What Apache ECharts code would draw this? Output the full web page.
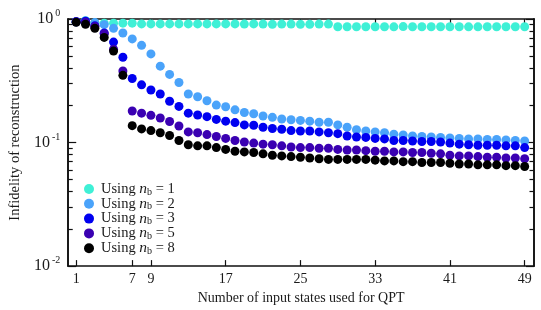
<!DOCTYPE html>
<html><head><meta charset="utf-8">
<script src="https://cdn.jsdelivr.net/npm/echarts@6/dist/echarts.min.js"></script>
<style>html,body{margin:0;padding:0;background:#fff}#c{width:541px;height:310px}</style>
</head><body><div id="c"></div>
<script>
var inputStates = [1,2,3,4,5,6,7,8,9,10,11,12,13,14,15,16,17,18,19,20,21,22,23,24,25,26,27,28,29,30,31,32,33,34,35,36,37,38,39,40,41,42,43,44,45,46,47,48,49];
var xTickValues = [1,7,9,17,25,33,41,49];
var yMajorTicks = [0.01,0.1,1];
var yMinorTicks = [0.02,0.03,0.04,0.05,0.06,0.07,0.08,0.09,0.2,0.3,0.4,0.5,0.6,0.7,0.8,0.9];
var seriesNames = ['Using n_b = 1','Using n_b = 2','Using n_b = 3','Using n_b = 5','Using n_b = 8'];
var nb1 = [0.95,0.97,0.93,0.925,0.925,0.925,0.925,0.912,0.912,0.912,0.912,0.912,0.912,0.912,0.912,0.912,0.912,0.912,0.91,0.912,0.91,0.905,0.91,0.91,0.905,0.905,0.91,0.91,0.866,0.866,0.866,0.866,0.866,0.866,0.864,0.868,0.866,0.866,0.866,0.866,0.866,0.866,0.864,0.864,0.866,0.866,0.866,0.866,0.866];
var nb2 = [0.95,0.965,0.935,0.9,0.84,0.77,0.69,0.612,0.522,0.415,0.356,0.306,0.247,0.235,0.218,0.201,0.195,0.184,0.175,0.171,0.164,0.16,0.155,0.153,0.151,0.149,0.146,0.146,0.139,0.133,0.127,0.124,0.122,0.12,0.117,0.115,0.113,0.112,0.111,0.11,0.109,0.108,0.107,0.107,0.106,0.106,0.105,0.104,0.103];
var nb3 = [0.95,0.96,0.88,0.77,0.65,0.49,0.33,0.293,0.266,0.247,0.216,0.196,0.173,0.167,0.162,0.154,0.149,0.145,0.139,0.138,0.133,0.13,0.128,0.125,0.124,0.124,0.122,0.12,0.118,0.113,0.111,0.11,0.108,0.107,0.104,0.104,0.103,0.102,0.102,0.101,0.099,0.097,0.096,0.095,0.095,0.095,0.094,0.094,0.091];
var nb5 = [0.95,0.94,0.87,0.76,0.57,0.38,0.18,0.173,0.166,0.158,0.148,0.136,0.122,0.12,0.116,0.112,0.108,0.104,0.101,0.099,0.097,0.096,0.094,0.092,0.091,0.091,0.09,0.09,0.088,0.087,0.087,0.086,0.085,0.085,0.084,0.084,0.083,0.083,0.082,0.081,0.079,0.078,0.078,0.077,0.076,0.076,0.075,0.075,0.074];
var nb8 = [0.94,0.905,0.84,0.71,0.55,0.35,0.137,0.129,0.125,0.12,0.114,0.104,0.096,0.094,0.094,0.091,0.088,0.085,0.084,0.083,0.081,0.079,0.078,0.077,0.076,0.075,0.074,0.073,0.073,0.073,0.073,0.073,0.072,0.071,0.071,0.07,0.07,0.069,0.069,0.069,0.068,0.067,0.067,0.066,0.066,0.066,0.065,0.065,0.064];
var seriesData = [nb1, nb2, nb3, nb5, nb8];
var colors = ['#3ff0d6','#4aa3fa','#0000f0','#3a00b2','#000000'];

var FONT = '"Liberation Serif", "DejaVu Serif", serif';
var TXT = '#1a1a1a';
var chart = echarts.init(document.getElementById('c'), null, {renderer: 'canvas'});

function pairs(arr){ return arr.map(function(v,i){ return [inputStates[i], v]; }); }
function expLabel(v){
  var e = Math.round(Math.log10(v));
  return '10{s|' + (e === 0 ? '0' : String(e)) + '}';
}
var baseY = {type:'log', logBase:10, min:0.01, max:1, gridIndex:0, splitLine:{show:false}};
function yAx(pos, major, labels){
  return Object.assign({}, baseY, {
    position: pos,
    axisLine:{show:true, lineStyle:{color:'#111', width:1.6}},
    axisTick:{show:true, inside:true, length: major ? 8 : 4.5, customValues: major ? yMajorTicks : yMinorTicks, lineStyle:{color:'#111', width:1.2}},
    minorTick:{show:false},
    axisLabel: labels ? {show:true, customValues: yMajorTicks, formatter: expLabel, fontFamily: FONT, fontSize: 16, color: TXT, margin: 8,
      rich:{s:{fontSize:10, fontFamily:FONT, color:TXT, padding:[0,0,11,2]}}} : {show:false},
    name: labels ? 'Infidelity of reconstruction' : '',
    nameLocation:'middle', nameGap: 39,
    nameTextStyle:{fontFamily:FONT, fontSize:14.5, color:TXT}
  });
}
var option = {
  animation:false,
  backgroundColor:'#fff',
  grid:{left:65, right:7, top:19, bottom:41, containLabel:false},
  xAxis:[
    {type:'value', min:0.15, max:50, position:'bottom',
     axisLine:{show:true, onZero:false, lineStyle:{color:'#111', width:1.6}},
     axisTick:{show:true, inside:true, length:6, customValues: xTickValues, lineStyle:{color:'#111', width:1.2}},
     axisLabel:{show:true, customValues: xTickValues, fontFamily:FONT, fontSize:14, color:TXT, margin:6},
     splitLine:{show:false},
     name:'Number of input states used for QPT', nameLocation:'middle', nameGap:23,
     nameTextStyle:{fontFamily:FONT, fontSize:14, color:TXT}},
    {type:'value', min:0.15, max:50, position:'top',
     axisLine:{show:true, onZero:false, lineStyle:{color:'#111', width:1.6}},
     axisTick:{show:true, inside:true, length:6, customValues: xTickValues, lineStyle:{color:'#111', width:1.2}},
     axisLabel:{show:false}, splitLine:{show:false}}
  ],
  yAxis:[ yAx('left', true, true), yAx('left', false, false), yAx('right', true, false), yAx('right', false, false) ],
  legend:{
    orient:'vertical', left:79, top:176, itemWidth:10, itemHeight:10, itemGap:-1.2,
    icon:'circle',
    data: seriesNames,
    formatter: function(name){ return name.replace('n_b', '{n|n}{b|b}'); },
    textStyle:{fontFamily:FONT, fontSize:14.5, color:TXT, padding:[0,0,0,2],
      rich:{n:{fontFamily:FONT, fontStyle:'italic', fontSize:15.5, color:TXT}, b:{fontFamily:FONT, fontSize:10, color:TXT, padding:[6,0,0,0]}}}
  },
  series: seriesNames.map(function(nm, k){
    return {name: nm, type:'scatter', xAxisIndex:0, yAxisIndex:0, symbol:'circle', symbolSize:9,
      itemStyle:{color: colors[k], opacity:1}, data: pairs(seriesData[k]), z: 2 + k};
  })
};
chart.setOption(option);
</script></body></html>
